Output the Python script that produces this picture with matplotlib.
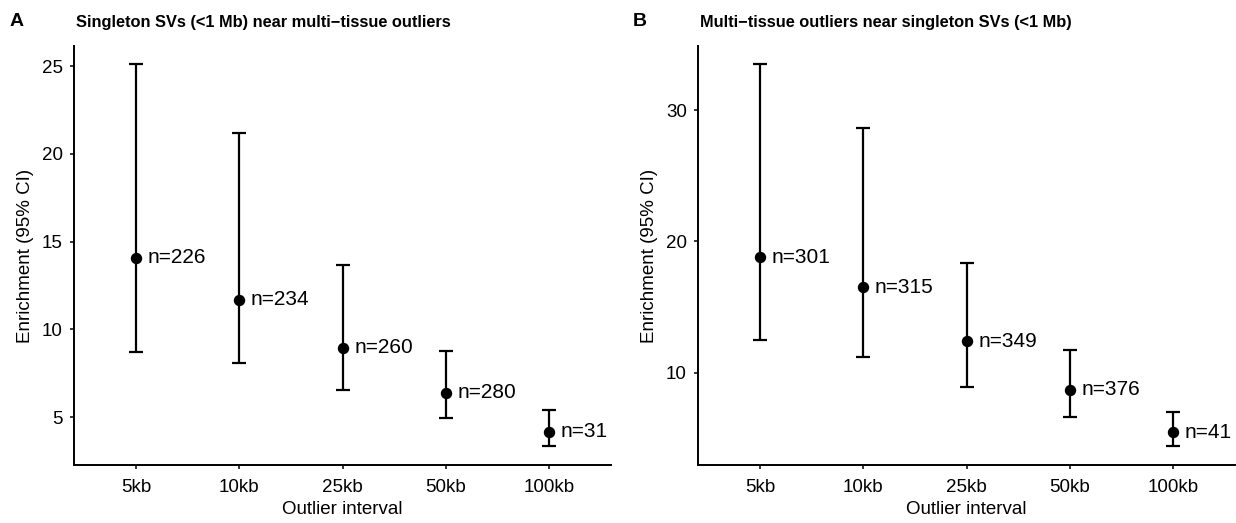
import matplotlib
matplotlib.use("Agg")
import matplotlib.pyplot as plt

plt.rcParams['font.family'] = ['Liberation Sans', 'DejaVu Sans']

categories = ["5kb", "10kb", "25kb", "50kb", "100kb"]

# Panel A: Singleton SVs near multi-tissue outliers
a_est = [14.07, 11.69, 8.94, 6.38, 4.15]
a_low = [8.68, 8.09, 6.52, 4.94, 3.35]
a_high = [25.10, 21.19, 13.68, 8.77, 5.38]
a_n = [226, 234, 260, 280, 31]

# Panel B: Multi-tissue outliers near singleton SVs
b_est = [18.80, 16.52, 12.43, 8.71, 5.49]
b_low = [12.51, 11.19, 8.94, 6.68, 4.47]
b_high = [33.50, 28.65, 18.34, 11.75, 7.03]
b_n = [301, 315, 349, 376, 41]

W, H = 1236, 523
fig = plt.figure(figsize=(W / 100, H / 100), dpi=100)

def px_axes(left, right, top, bottom):
    return fig.add_axes([left / W, (H - bottom) / H, (right - left) / W, (bottom - top) / H])

def draw(ax, est, low, high, ns, ylim, yticks):
    x = list(range(1, len(categories) + 1))
    yerr = [[e - l for e, l in zip(est, low)], [h - e for e, h in zip(est, high)]]
    ax.errorbar(x, est, yerr=yerr, fmt='o', color='black', ms=7.2,
                elinewidth=1.6, capsize=5, capthick=1.6)
    for xi, yi, n in zip(x, est, ns):
        ax.annotate(f"n={n}", (xi, yi), xytext=(8.5, 0), textcoords='offset points',
                    ha='left', va='center', fontsize=15, color='black')
    ax.set_xlim(0.4, len(categories) + 0.6)
    ax.set_ylim(*ylim)
    ax.set_xticks(x)
    ax.set_xticklabels(categories)
    ax.set_yticks(yticks)
    ax.set_yticklabels([str(t) for t in yticks])
    for s in ['top', 'right']:
        ax.spines[s].set_visible(False)
    for s in ['left', 'bottom']:
        ax.spines[s].set_linewidth(1.4)
    ax.tick_params(axis='both', length=3, width=1.1, labelsize=13.5,
                   colors='black', pad=5)
    ax.tick_params(axis='x', pad=7)
    ax.set_xlabel("Outlier interval", fontsize=13.5, labelpad=4)
    ax.set_ylabel("Enrichment (95% CI)", fontsize=13.5, labelpad=6)
    ax.patch.set_alpha(0)

axA = px_axes(74, 611, 46, 465)
draw(axA, a_est, a_low, a_high, a_n, (2.27, 26.14), [5, 10, 15, 20, 25])
axB = px_axes(698, 1235, 46, 465)
draw(axB, b_est, b_low, b_high, b_n, (3.0, 34.87), [10, 20, 30])

fig.text(10 / W, 1 - 22 / H, "A", fontsize=14, fontweight='bold', va='center', ha='left')
fig.text(76 / W, 1 - 22 / H, "Singleton SVs (<1 Mb) near multi\u2212tissue outliers",
         fontsize=11.8, fontweight='bold', va='center', ha='left')
fig.text(633 / W, 1 - 22 / H, "B", fontsize=14, fontweight='bold', va='center', ha='left')
fig.text(700 / W, 1 - 22 / H, "Multi\u2212tissue outliers near singleton SVs (<1 Mb)",
         fontsize=11.8, fontweight='bold', va='center', ha='left')

fig.savefig("out.png", dpi=100, facecolor='white')
